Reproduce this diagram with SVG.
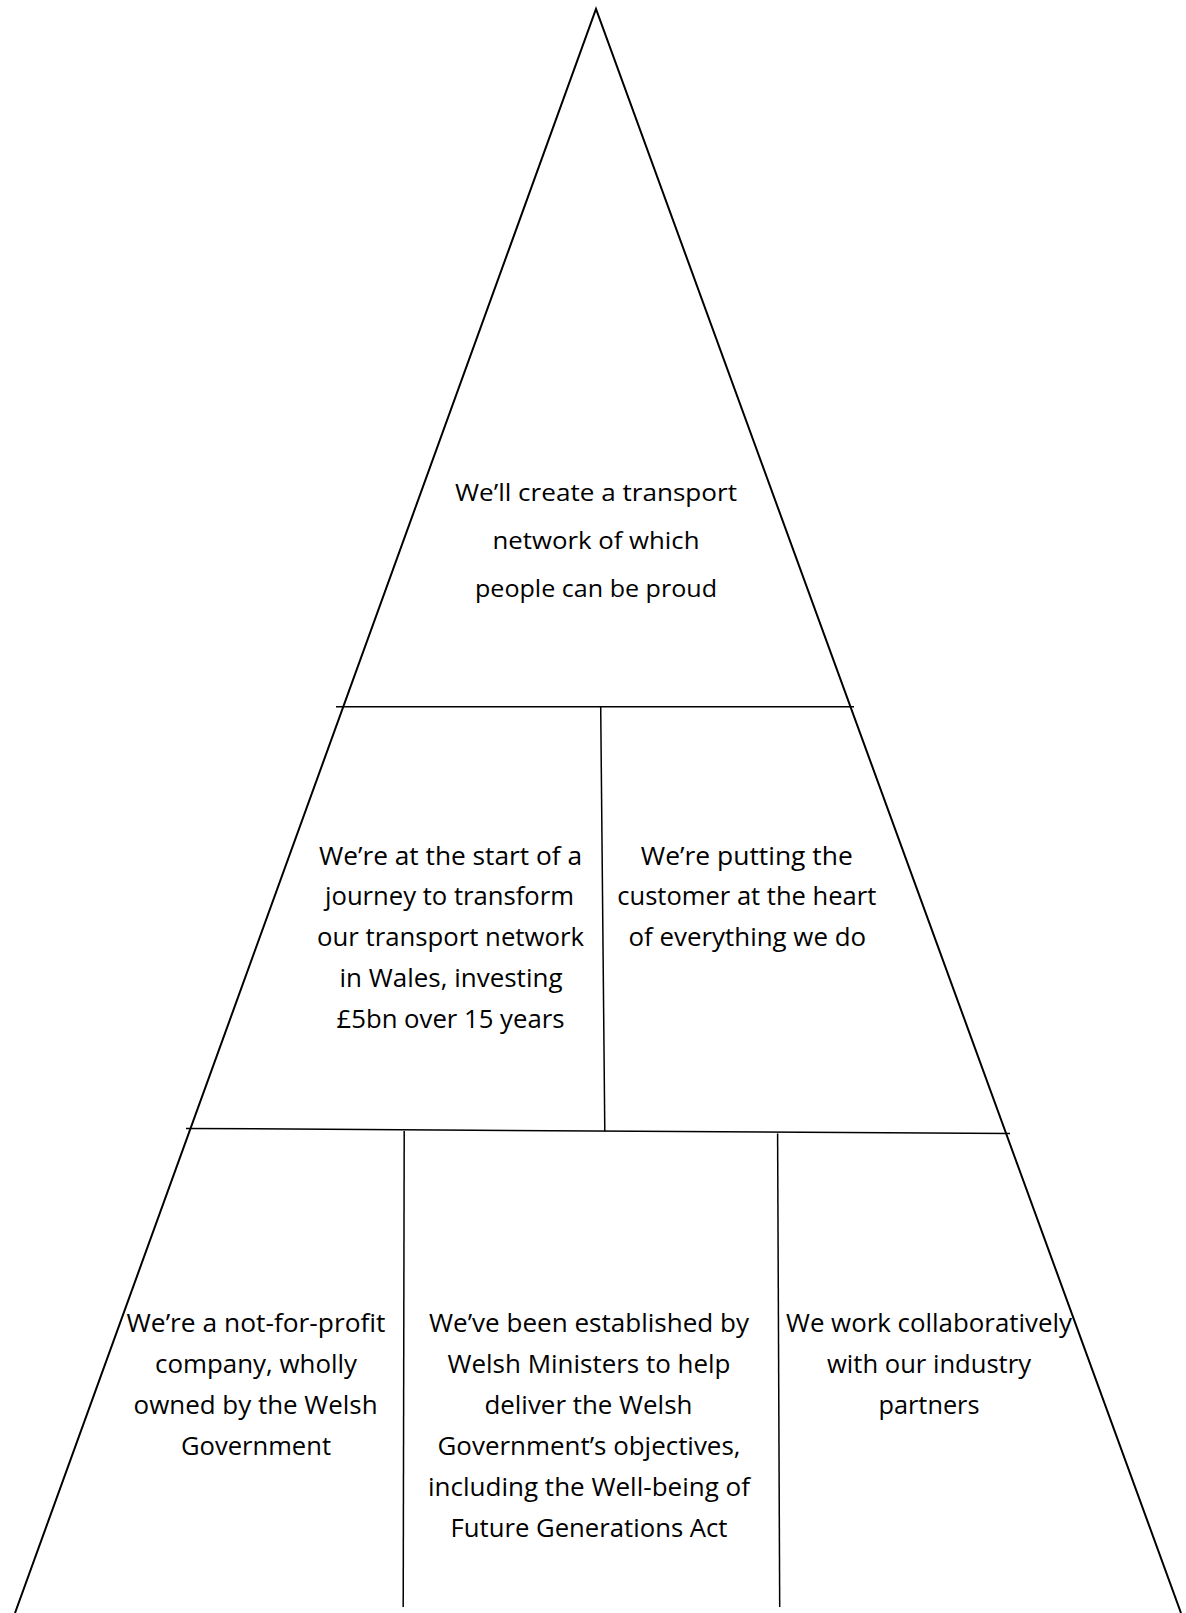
<svg xmlns="http://www.w3.org/2000/svg" width="1186" height="1613" viewBox="0 0 1186 1613">
<style>
.t{font-family:"Open Sans","Noto Sans","Liberation Sans",sans-serif;font-size:25px;fill:#000;text-anchor:middle}
.s{font-size:24px}
.edge{stroke:#000;stroke-width:2;fill:none}
.div{stroke:#000;stroke-width:1.5;fill:none}
</style>
<rect width="1186" height="1613" fill="#fff"/>
<g id="lines">
<path class="edge" d="M15,1613 L596,9 L1181,1613"/>
<line class="div" x1="336" y1="706.7" x2="854" y2="706.7"/>
<line class="div" x1="600.7" y1="706.7" x2="604.8" y2="1131.5"/>
<line class="div" x1="186" y1="1128.4" x2="1010" y2="1133.5"/>
<line class="div" x1="404.2" y1="1131" x2="403.2" y2="1607"/>
<line class="div" x1="777.6" y1="1133.5" x2="779.7" y2="1607"/>
</g>
<g id="top">
<text class="t s" x="596" y="500.7" textLength="282" lengthAdjust="spacingAndGlyphs">We’ll create a transport</text>
<text class="t s" x="596" y="549" textLength="207" lengthAdjust="spacingAndGlyphs">network of which</text>
<text class="t s" x="596" y="597.3" textLength="242" lengthAdjust="spacingAndGlyphs">people can be proud</text>
</g>
<g id="mid-left">
<text class="t" x="450.5" y="865" textLength="263" lengthAdjust="spacingAndGlyphs">We’re at the start of a</text>
<text class="t" x="449.5" y="905" textLength="249" lengthAdjust="spacingAndGlyphs">journey to transform</text>
<text class="t" x="450.5" y="946" textLength="267" lengthAdjust="spacingAndGlyphs">our transport network</text>
<text class="t" x="451" y="987" textLength="223" lengthAdjust="spacingAndGlyphs">in Wales, investing</text>
<text class="t" x="450.5" y="1028" textLength="228" lengthAdjust="spacingAndGlyphs">£5bn over 15 years</text>
</g>
<g id="mid-right">
<text class="t" x="746.8" y="865" textLength="212" lengthAdjust="spacingAndGlyphs">We’re putting the</text>
<text class="t" x="746.8" y="905" textLength="259" lengthAdjust="spacingAndGlyphs">customer at the heart</text>
<text class="t" x="747.3" y="946" textLength="237.6" lengthAdjust="spacingAndGlyphs">of everything we do</text>
</g>
<g id="bottom-left">
<text class="t" x="256" y="1332" textLength="259" lengthAdjust="spacingAndGlyphs">We’re a not-for-profit</text>
<text class="t" x="256" y="1373" textLength="202" lengthAdjust="spacingAndGlyphs">company, wholly</text>
<text class="t" x="255.6" y="1414" textLength="244" lengthAdjust="spacingAndGlyphs">owned by the Welsh</text>
<text class="t" x="256" y="1455" textLength="150" lengthAdjust="spacingAndGlyphs">Government</text>
</g>
<g id="bottom-centre">
<text class="t" x="589" y="1332" textLength="320" lengthAdjust="spacingAndGlyphs">We’ve been established by</text>
<text class="t" x="589" y="1373" textLength="283" lengthAdjust="spacingAndGlyphs">Welsh Ministers to help</text>
<text class="t" x="588.4" y="1414" textLength="208" lengthAdjust="spacingAndGlyphs">deliver the Welsh</text>
<text class="t" x="589" y="1455" textLength="303" lengthAdjust="spacingAndGlyphs">Government’s objectives,</text>
<text class="t" x="589" y="1496" textLength="322" lengthAdjust="spacingAndGlyphs">including the Well-being of</text>
<text class="t" x="589" y="1537" textLength="277" lengthAdjust="spacingAndGlyphs">Future Generations Act</text>
</g>
<g id="bottom-right">
<text class="t" x="929" y="1332" textLength="286" lengthAdjust="spacingAndGlyphs">We work collaboratively</text>
<text class="t" x="929" y="1373" textLength="204" lengthAdjust="spacingAndGlyphs">with our industry</text>
<text class="t" x="929" y="1414" textLength="101" lengthAdjust="spacingAndGlyphs">partners</text>
</g>
</svg>
